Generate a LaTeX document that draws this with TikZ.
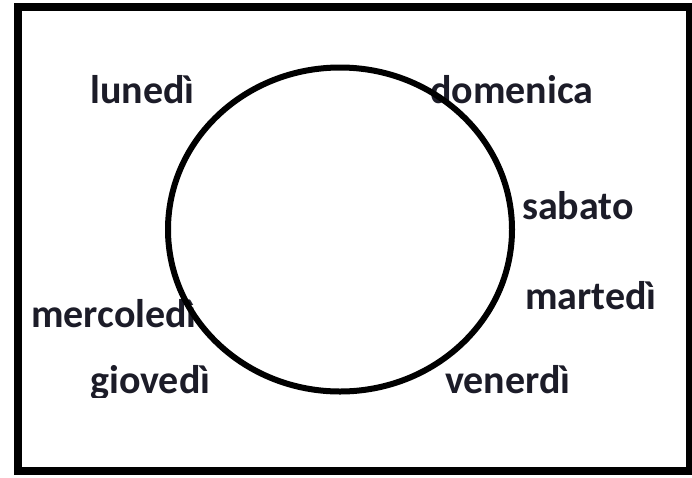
\documentclass[tikz,border=0pt]{standalone}
\usepackage{fontspec}
\setmainfont{Carlito}
\definecolor{txt}{RGB}{28,28,40}
\begin{document}
\begin{tikzpicture}[x=1pt,y=-1pt,
  day/.style={anchor=base west,inner sep=0pt,text=txt,font=\fontsize{40}{40}\selectfont\bfseries}]
\useasboundingbox (0,0) rectangle (692,477);
\fill[white] (0,0) rectangle (692,477);
\draw[line width=8pt] (18,7) rectangle (689.5,471);
\node[day] (lun) at (90,103) {lunedì};
\node[day] (dom) at (430,103) {domenica};
\node[day] (sab) at (522,219) {sabato};
\node[day] (mar) at (525,309) {martedì};
\node[day] (mer) at (31,327) {mercoledì};
\begin{scope}
\clip (80,350) rectangle (230,397);
\node[day] (gio) at (90,393) {giovedì};
\end{scope}
\node[day] (ven) at (445,393) {venerdì};
\draw[line width=6pt] (340,229.5) ellipse [x radius=172, y radius=162];
\end{tikzpicture}
\end{document}
